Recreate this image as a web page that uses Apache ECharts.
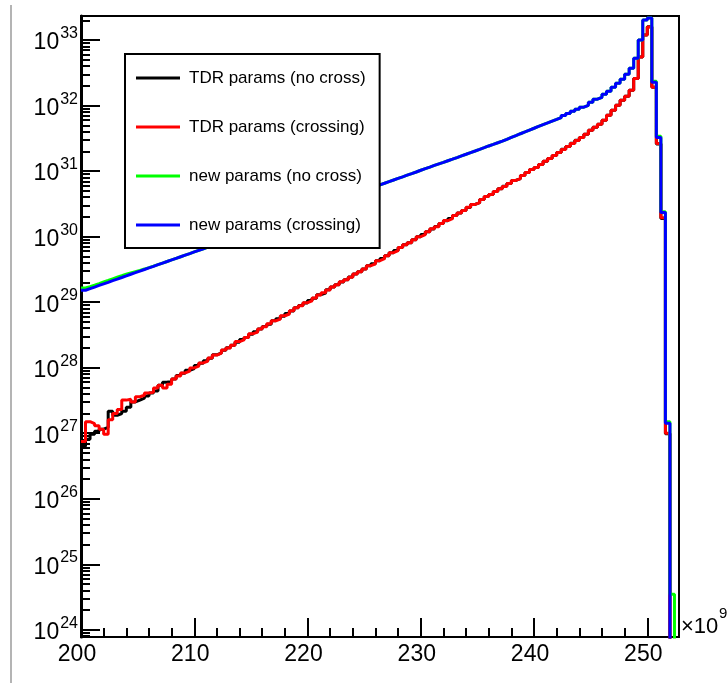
<!DOCTYPE html>
<html>
<head>
<meta charset="utf-8">
<script src="https://cdn.jsdelivr.net/npm/echarts@6/dist/echarts.min.js"></script>
<style>
  html, body { margin: 0; padding: 0; background: #ffffff; }
  #chart { width: 728px; height: 683px; }
</style>
</head>
<body>
<div id="chart"></div>
<script>
// Histogram binning (x in units of 10^9): 132 equal bins
const binLow = 200;
const binHigh = 252.8;

// Bin contents, one value per bin
const tdrNoCross = [
  6.3e26, 8.1e26, 9.6e26, 1.07e27, 1.15e27, 1.23e27, 2.17e27, 1.88e27, 2.0e27, 2.17e27,
  2.5e27, 3.0e27, 3.2e27, 3.43e27, 3.7e27, 4.1e27, 4.4e27, 5.4e27, 6.0e27, 6.2e27,
  6.7e27, 7.6e27, 8.2e27, 9.1e27, 9.7e27, 1.08e28, 1.17e28, 1.28e28, 1.39e28, 1.57e28,
  1.68e28, 1.85e28, 2.02e28, 2.2e28, 2.45e28, 2.7e28, 2.9e28, 3.25e28, 3.55e28, 3.9e28,
  4.25e28, 4.6e28, 5.2e28, 5.6e28, 6.1e28, 6.7e28, 7.3e28, 8.2e28, 8.9e28, 9.7e28,
  1.06e29, 1.15e29, 1.3e29, 1.38e29, 1.55e29, 1.7e29, 1.85e29, 2.04e29, 2.2e29, 2.42e29,
  2.7e29, 2.92e29, 3.22e29, 3.6e29, 3.87e29, 4.28e29, 4.62e29, 5.1e29, 5.68e29, 6.12e29,
  6.8e29, 7.5e29, 8.1e29, 9.0e29, 1.0e30, 1.08e30, 1.19e30, 1.31e30, 1.43e30, 1.58e30,
  1.75e30, 1.89e30, 2.1e30, 2.3e30, 2.5e30, 2.78e30, 3.1e30, 3.3e30, 3.7e30, 4.1e30,
  4.4e30, 4.9e30, 5.4e30, 5.85e30, 6.5e30, 7.2e30, 7.7e30, 8.6e30, 9.5e30, 1.06e31,
  1.14e31, 1.26e31, 1.41e31, 1.56e31, 1.73e31, 1.93e31, 2.15e31, 2.38e31, 2.66e31, 2.95e31,
  3.27e31, 3.64e31, 4.2e31, 4.66e31, 5.2e31, 5.96e31, 7.1e31, 8.5e31, 1.01e32, 1.21e32,
  1.39e32, 1.71e32, 2.6e32, 5.5e32, 1.19e33, 1.6e33, 1.9e32, 2.6e31, 1.9e30, 9.8e26,
  0, 0
];

const tdrCrossing = [
  7.5e26, 1.5e27, 1.4e27, 1.3e27, 1.15e27, 9.6e26, 1.6e27, 2.0e27, 2.3e27, 3.2e27,
  3.3e27, 3.0e27, 3.6e27, 3.8e27, 4.1e27, 4.2e27, 4.9e27, 5.4e27, 4.9e27, 5.6e27,
  6.7e27, 7.5e27, 8.3e27, 8.9e27, 9.9e27, 1.06e28, 1.18e28, 1.26e28, 1.4e28, 1.56e28,
  1.67e28, 1.86e28, 2.0e28, 2.2e28, 2.5e28, 2.65e28, 2.9e28, 3.3e28, 3.5e28, 3.9e28,
  4.2e28, 4.7e28, 5.2e28, 5.5e28, 6.2e28, 6.6e28, 7.4e28, 8.2e28, 8.8e28, 9.8e28,
  1.05e29, 1.16e29, 1.29e29, 1.39e29, 1.54e29, 1.71e29, 1.84e29, 2.05e29, 2.2e29, 2.4e29,
  2.7e29, 2.9e29, 3.2e29, 3.6e29, 3.85e29, 4.3e29, 4.6e29, 5.1e29, 5.7e29, 6.1e29,
  6.8e29, 7.5e29, 8.1e29, 9.0e29, 1.0e30, 1.07e30, 1.19e30, 1.32e30, 1.42e30, 1.58e30,
  1.76e30, 1.88e30, 2.1e30, 2.3e30, 2.5e30, 2.8e30, 3.1e30, 3.3e30, 3.7e30, 4.1e30,
  4.4e30, 4.9e30, 5.4e30, 5.8e30, 6.5e30, 7.2e30, 7.7e30, 8.6e30, 9.5e30, 1.06e31,
  1.14e31, 1.26e31, 1.41e31, 1.56e31, 1.73e31, 1.93e31, 2.14e31, 2.38e31, 2.65e31, 2.94e31,
  3.27e31, 3.64e31, 4.19e31, 4.66e31, 5.18e31, 5.96e31, 7.1e31, 8.5e31, 1.01e32, 1.21e32,
  1.39e32, 1.71e32, 2.6e32, 5.5e32, 1.19e33, 1.58e33, 1.91e32, 2.65e31, 1.95e30, 1.0e27,
  0, 0
];

const newNoCross = [
  1.65e29, 1.73e29, 1.82e29, 1.92e29, 2.03e29, 2.14e29, 2.27e29, 2.4e29, 2.53e29, 2.67e29,
  2.8e29, 2.93e29, 3.06e29, 3.2e29, 3.36e29, 3.54e29, 3.74e29, 3.95e29, 4.17e29, 4.41e29,
  4.67e29, 4.93e29, 5.22e29, 5.52e29, 5.84e29, 6.18e29, 6.53e29, 6.92e29, 7.33e29, 7.76e29,
  8.22e29, 8.71e29, 9.23e29, 9.77e29, 1.04e30, 1.1e30, 1.16e30, 1.23e30, 1.3e30, 1.38e30,
  1.46e30, 1.55e30, 1.64e30, 1.74e30, 1.84e30, 1.95e30, 2.07e30, 2.19e30, 2.32e30, 2.45e30,
  2.6e30, 2.75e30, 2.92e30, 3.09e30, 3.27e30, 3.47e30, 3.67e30, 3.89e30, 4.12e30, 4.37e30,
  4.62e30, 4.9e30, 5.19e30, 5.5e30, 5.82e30, 6.17e30, 6.53e30, 6.92e30, 7.31e30, 7.74e30,
  8.19e30, 8.67e30, 9.16e30, 9.7e30, 1.03e31, 1.09e31, 1.15e31, 1.22e31, 1.29e31, 1.36e31,
  1.44e31, 1.52e31, 1.61e31, 1.71e31, 1.81e31, 1.92e31, 2.03e31, 2.15e31, 2.28e31, 2.42e31,
  2.56e31, 2.71e31, 2.87e31, 3.06e31, 3.27e31, 3.48e31, 3.72e31, 3.96e31, 4.23e31, 4.51e31,
  4.81e31, 5.11e31, 5.43e31, 5.78e31, 6.15e31, 6.55e31, 7.05e31, 7.59e31, 8.17e31, 8.79e31,
  9.46e31, 1.01e32, 1.12e32, 1.25e32, 1.34e32, 1.49e32, 1.66e32, 1.91e32, 2.2e32, 2.53e32,
  3.01e32, 3.72e32, 5.3e32, 1.0e33, 2.02e33, 2.17e33, 2.35e32, 3.4e31, 2.4e30, 1.5e27,
  3.5e24, 0
];

const newCrossing = [
  1.52e29, 1.61e29, 1.7e29, 1.8e29, 1.9e29, 2.01e29, 2.13e29, 2.25e29, 2.38e29, 2.52e29,
  2.67e29, 2.82e29, 2.98e29, 3.15e29, 3.33e29, 3.52e29, 3.73e29, 3.95e29, 4.17e29, 4.41e29,
  4.67e29, 4.93e29, 5.22e29, 5.52e29, 5.84e29, 6.18e29, 6.53e29, 6.92e29, 7.33e29, 7.76e29,
  8.22e29, 8.71e29, 9.23e29, 9.77e29, 1.04e30, 1.1e30, 1.16e30, 1.23e30, 1.3e30, 1.38e30,
  1.46e30, 1.55e30, 1.64e30, 1.74e30, 1.84e30, 1.95e30, 2.07e30, 2.19e30, 2.32e30, 2.45e30,
  2.6e30, 2.75e30, 2.92e30, 3.09e30, 3.27e30, 3.47e30, 3.67e30, 3.89e30, 4.12e30, 4.37e30,
  4.62e30, 4.9e30, 5.19e30, 5.5e30, 5.82e30, 6.17e30, 6.53e30, 6.92e30, 7.31e30, 7.74e30,
  8.19e30, 8.67e30, 9.16e30, 9.7e30, 1.03e31, 1.09e31, 1.15e31, 1.22e31, 1.29e31, 1.36e31,
  1.44e31, 1.52e31, 1.61e31, 1.71e31, 1.81e31, 1.92e31, 2.03e31, 2.15e31, 2.28e31, 2.42e31,
  2.56e31, 2.71e31, 2.87e31, 3.06e31, 3.27e31, 3.48e31, 3.72e31, 3.96e31, 4.23e31, 4.51e31,
  4.81e31, 5.11e31, 5.43e31, 5.78e31, 6.15e31, 6.55e31, 7.05e31, 7.59e31, 8.17e31, 8.79e31,
  9.46e31, 1.01e32, 1.12e32, 1.25e32, 1.34e32, 1.49e32, 1.66e32, 1.91e32, 2.2e32, 2.53e32,
  3.01e32, 3.72e32, 5.3e32, 1.0e33, 2.02e33, 2.17e33, 2.28e32, 3.27e31, 2.33e30, 1.42e27,
  0, 0
];

const seriesNames = [
  'TDR params (no cross)',
  'TDR params (crossing)',
  'new params (no cross)',
  'new params (crossing)'
];
const seriesValues = [tdrNoCross, tdrCrossing, newNoCross, newCrossing];

// Axis ticks and labels
const xMajorTicks = [200, 210, 220, 230, 240, 250];
const xMinorTicks = [202, 204, 206, 208, 212, 214, 216, 218, 222, 224, 226, 228,
                     232, 234, 236, 238, 242, 244, 246, 248, 252];
const yDecades = [24, 25, 26, 27, 28, 29, 30, 31, 32, 33];
const yRange = [7.76e23, 2.33e33];

// ---- build chart options ----
const colors = ['#000000', '#ff0000', '#00ff00', '#0000ff'];
const fontFamily = '"Liberation Sans", Arial, Helvetica, sans-serif';
const yMajorValues = yDecades.map(d => Math.pow(10, d));
const yMinorValues = [];
for (let d = 23; d <= 33; d++) {
  for (let m = 2; m <= 9; m++) {
    const v = m * Math.pow(10, d);
    if (v > yRange[0] && v < yRange[1]) yMinorValues.push(v);
  }
}

// Empty bins sit far below the visible range on a log scale
const emptyFloor = 1e18;
function histToSteps(values) {
  const n = values.length;
  const w = (binHigh - binLow) / n;
  const pts = values.map((v, i) => [binLow + i * w, v > 0 ? v : emptyFloor]);
  const last = values[n - 1];
  pts.push([binHigh, last > 0 ? last : emptyFloor]);
  return pts;
}

const series = seriesValues.map((vals, i) => ({
  name: seriesNames[i],
  type: 'line',
  step: 'end',
  xAxisIndex: 0,
  yAxisIndex: 0,
  data: histToSteps(vals),
  showSymbol: false,
  symbol: 'none',
  clip: true,
  color: colors[i],
  lineStyle: { color: colors[i], width: 3 },
  itemStyle: { color: colors[i] },
  emphasis: { disabled: true },
  animation: false
}));

const chart = echarts.init(document.getElementById('chart'), null, { renderer: 'canvas' });

chart.setOption({
  backgroundColor: '#ffffff',
  animation: false,
  textStyle: { fontFamily: fontFamily },
  grid: {
    left: 81, right: 49, top: 16, bottom: 46,
    show: true, borderColor: '#000000', borderWidth: 2,
    backgroundColor: 'transparent',
    containLabel: false,
    outerBoundsMode: 'none'
  },
  legend: {
    show: true,
    orient: 'vertical',
    left: 125,
    top: 54,
    padding: [14, 14, 13, 11],
    itemGap: 29,
    itemWidth: 44,
    itemHeight: 3,
    icon: 'rect',
    selectedMode: false,
    backgroundColor: '#ffffff',
    borderColor: '#000000',
    borderWidth: 2,
    borderRadius: 0,
    z: 10,
    textStyle: {
      fontFamily: fontFamily,
      fontSize: 17,
      color: '#000000',
      lineHeight: 20,
      padding: [0, 0, 0, 4]
    },
    data: seriesNames
  },
  xAxis: [
    {
      type: 'value',
      min: binLow,
      max: binHigh,
      position: 'bottom',
      axisLine: { show: true, onZero: false, lineStyle: { color: '#000000', width: 2 } },
      axisTick: {
        show: true, inside: true, length: 19,
        customValues: xMajorTicks,
        lineStyle: { color: '#000000', width: 2 }
      },
      minorTick: { show: false },
      splitLine: { show: false },
      axisLabel: {
        show: true,
        customValues: xMajorTicks,
        color: '#000000',
        fontFamily: fontFamily,
        fontSize: 23,
        margin: 6,
        padding: [0, 8, 0, 0],
        formatter: v => String(Math.round(v))
      }
    },
    {
      type: 'value',
      min: binLow,
      max: binHigh,
      position: 'bottom',
      axisLine: { show: false, onZero: false },
      axisTick: {
        show: true, inside: true, length: 9,
        customValues: xMinorTicks,
        lineStyle: { color: '#000000', width: 2 }
      },
      splitLine: { show: false },
      axisLabel: { show: false }
    }
  ],
  yAxis: [
    {
      type: 'log',
      logBase: 10,
      min: yRange[0],
      max: yRange[1],
      position: 'left',
      axisLine: { show: true, onZero: false, lineStyle: { color: '#000000', width: 3 } },
      axisTick: {
        show: true, inside: true, length: 19,
        customValues: yMajorValues,
        lineStyle: { color: '#000000', width: 2 }
      },
      minorTick: { show: false },
      splitLine: { show: false },
      axisLabel: {
        show: true,
        customValues: yMajorValues,
        margin: 3,
        color: '#000000',
        fontFamily: fontFamily,
        formatter: v => '{b|10}{s|' + Math.round(Math.log10(v)) + '}',
        rich: {
          b: { fontSize: 23, fontFamily: fontFamily, color: '#000000', verticalAlign: 'bottom' },
          s: { fontSize: 16, fontFamily: fontFamily, color: '#000000', verticalAlign: 'bottom', padding: [0, 0, 13, 1] }
        }
      }
    },
    {
      type: 'log',
      logBase: 10,
      min: yRange[0],
      max: yRange[1],
      position: 'left',
      axisLine: { show: false, onZero: false },
      axisTick: {
        show: true, inside: true, length: 9,
        customValues: yMinorValues,
        lineStyle: { color: '#000000', width: 2 }
      },
      splitLine: { show: false },
      axisLabel: { show: false }
    }
  ],
  graphic: [
    {
      type: 'line',
      shape: { x1: 11, y1: 5, x2: 11, y2: 683 },
      style: { stroke: '#b4b4b4', lineWidth: 2 },
      silent: true
    },
    {
      type: 'text',
      left: 681,
      top: 616,
      style: { text: '×10', fill: '#000000', font: '22px ' + fontFamily }
    },
    {
      type: 'text',
      left: 719,
      top: 606,
      style: { text: '9', fill: '#000000', font: '15px ' + fontFamily }
    }
  ],
  series: series
});
</script>
</body>
</html>
